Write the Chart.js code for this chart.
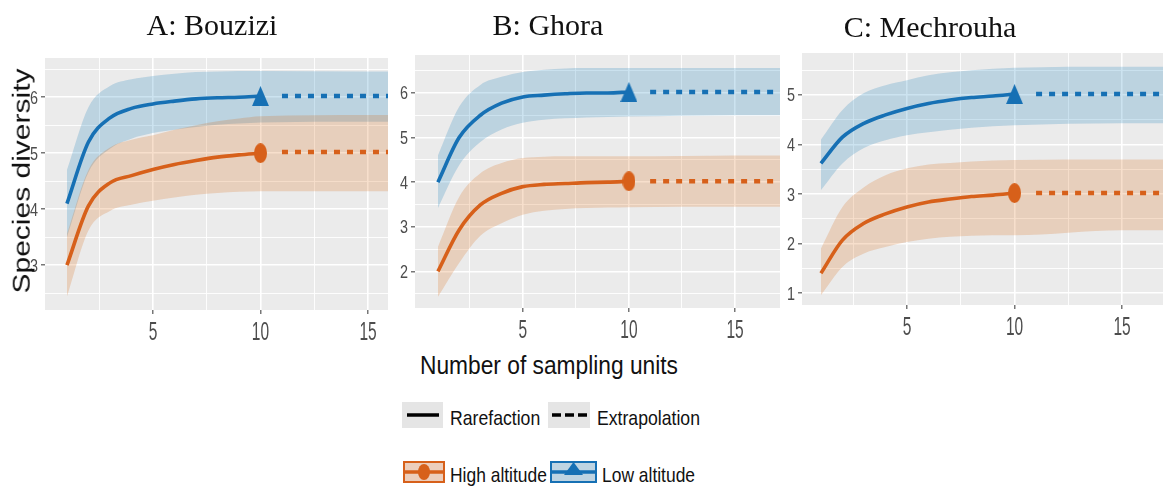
<!DOCTYPE html>
<html>
<head>
<meta charset="utf-8">
<script src="https://cdn.jsdelivr.net/npm/chart.js@4.4.1/dist/chart.umd.min.js"></script>
<style>
  body { margin: 0; background: #fff; width: 1163px; height: 488px; overflow: hidden; position: relative;
         font-family: 'Liberation Sans', Arial, sans-serif; }
  canvas { position: absolute; top: 0; }
  .title { position: absolute; top: 10px; width: 300px; text-align: center; color: #111;
           font-family: 'Liberation Serif', 'Times New Roman', serif; font-size: 30px; line-height: 30px; }
  .lab { position: absolute; white-space: nowrap; color: #111; transform-origin: left center; }
  svg { position: absolute; }
</style>
</head>
<body>
<canvas id="panelA" width="390" height="345" style="left:0"></canvas>
<canvas id="panelB" width="390" height="345" style="left:392px"></canvas>
<canvas id="panelC" width="381" height="345" style="left:782px"></canvas>

<div class="title" style="left:62px">A: Bouzizi</div>
<div class="title" style="left:398px">B: Ghora</div>
<div class="title" style="left:780px;top:12px">C: Mechrouha</div>

<div class="lab" style="left:-98px;top:166px;width:240px;height:30px;line-height:30px;font-size:30px;text-align:center;transform-origin:center;transform:rotate(-90deg) scaleY(0.78)">Species diversity</div>
<div class="lab" style="left:420px;top:353px;font-size:25px;line-height:25px;transform:scaleX(0.91)">Number of sampling units</div>

<!-- legend: line type -->
<svg style="left:402px;top:402px" width="41" height="26"><rect width="41" height="26" fill="#E5E5E5"/><line x1="5" y1="13" x2="37" y2="13" stroke="#000" stroke-width="3.5"/></svg>
<div class="lab" style="left:450px;top:407px;font-size:21px;line-height:21px;transform:scaleX(0.84)">Rarefaction</div>
<svg style="left:548px;top:402px" width="42" height="26"><rect width="42" height="26" fill="#E5E5E5"/><line x1="4" y1="13" x2="39" y2="13" stroke="#000" stroke-width="3.5" stroke-dasharray="9 4"/></svg>
<div class="lab" style="left:597px;top:407px;font-size:21px;line-height:21px;transform:scaleX(0.84)">Extrapolation</div>

<!-- legend: groups -->
<svg style="left:403px;top:461px" width="42" height="22"><rect x="1" y="1" width="40" height="20" fill="rgb(236,206,188)" stroke="#D7601A" stroke-width="2"/><line x1="2" y1="11" x2="40" y2="11" stroke="#D7601A" stroke-width="3.5"/><ellipse cx="21" cy="11" rx="6" ry="8" fill="#D7601A"/></svg>
<div class="lab" style="left:450px;top:464px;font-size:21px;line-height:21px;transform:scaleX(0.83)">High altitude</div>
<svg style="left:550px;top:461px" width="47" height="22"><rect x="1" y="1" width="45" height="20" fill="rgb(190,212,226)" stroke="#1670B4" stroke-width="2"/><line x1="2" y1="11" x2="45" y2="11" stroke="#1670B4" stroke-width="3.5"/><polygon points="23.5,1 33,14 14,14" fill="#1670B4"/></svg>
<div class="lab" style="left:602px;top:464px;font-size:21px;line-height:21px;transform:scaleX(0.83)">Low altitude</div>

<script>
// sampling units (rarefaction part) and the extra points used for the extrapolated bands
const units = [1, 2, 3, 4, 5, 6, 7, 8, 9, 10];
const bandUnits = [1, 2, 3, 4, 5, 6, 7, 8, 9, 10, 15, 20];
const extrapUnits = [11, 20];

// tick positions (majors get labels, halves are minor grid lines)
const xTicks = [2.5, 5, 7.5, 10, 12.5, 15, 17.5];
const bouziziYTicks = [2.5, 3, 3.5, 4, 4.5, 5, 5.5, 6, 6.5];
const ghoraYTicks = [1.5, 2, 2.5, 3, 3.5, 4, 4.5, 5, 5.5, 6, 6.5];
const mechrouhaYTicks = [1, 1.5, 2, 2.5, 3, 3.5, 4, 4.5, 5, 5.5];

// A: Bouzizi
const bouziziLow = [4.1, 5.2, 5.63, 5.8, 5.88, 5.93, 5.97, 5.99, 6.0, 6.02];
const bouziziLowUpper = [4.7, 5.82, 6.2, 6.32, 6.38, 6.42, 6.45, 6.46, 6.47, 6.47, 6.46, 6.45];
const bouziziLowLower = [3.5, 4.66, 5.08, 5.26, 5.36, 5.42, 5.47, 5.51, 5.53, 5.55, 5.56, 5.56];
const bouziziLowExtrap = [6.02, 6.02];
const bouziziHigh = [3.0, 4.06, 4.47, 4.6, 4.71, 4.8, 4.87, 4.93, 4.97, 5.0];
const bouziziHighUpper = [3.56, 4.7, 5.1, 5.24, 5.32, 5.42, 5.5, 5.57, 5.62, 5.66, 5.68, 5.68];
const bouziziHighLower = [2.44, 3.62, 3.97, 4.08, 4.15, 4.21, 4.26, 4.29, 4.31, 4.32, 4.32, 4.32];
const bouziziHighExtrap = [5.02, 5.02];

// B: Ghora
const ghoraLow = [4.0, 5.0, 5.5, 5.77, 5.91, 5.95, 5.98, 6.0, 6.0, 6.02];
const ghoraLowUpper = [4.6, 5.69, 6.18, 6.36, 6.47, 6.52, 6.55, 6.56, 6.56, 6.56, 6.56, 6.56];
const ghoraLowLower = [3.42, 4.38, 4.9, 5.18, 5.33, 5.4, 5.43, 5.45, 5.46, 5.47, 5.5, 5.5];
const ghoraLowExtrap = [6.02, 6.02];
const ghoraHigh = [2.0, 2.93, 3.49, 3.75, 3.9, 3.95, 3.97, 3.99, 4.0, 4.02];
const ghoraHighUpper = [2.55, 3.67, 4.2, 4.43, 4.54, 4.57, 4.58, 4.58, 4.58, 4.58, 4.6, 4.6];
const ghoraHighLower = [1.43, 2.19, 2.8, 3.08, 3.27, 3.36, 3.4, 3.42, 3.43, 3.44, 3.45, 3.45];
const ghoraHighExtrap = [4.02, 4.02];

// C: Mechrouha
const mechrouhaLow = [3.62, 4.15, 4.43, 4.6, 4.73, 4.83, 4.9, 4.95, 4.98, 5.02];
const mechrouhaLowUpper = [4.1, 4.7, 5.04, 5.2, 5.3, 5.4, 5.46, 5.5, 5.53, 5.55, 5.57, 5.57];
const mechrouhaLowLower = [3.08, 3.62, 3.93, 4.09, 4.19, 4.25, 4.3, 4.34, 4.37, 4.39, 4.43, 4.43];
const mechrouhaLowExtrap = [5.02, 5.02];
const mechrouhaHigh = [1.4, 2.07, 2.41, 2.6, 2.74, 2.84, 2.9, 2.95, 2.98, 3.02];
const mechrouhaHighUpper = [1.9, 2.74, 3.14, 3.38, 3.52, 3.6, 3.63, 3.66, 3.68, 3.69, 3.7, 3.7];
const mechrouhaHighLower = [0.96, 1.53, 1.8, 1.93, 2.03, 2.1, 2.14, 2.16, 2.17, 2.17, 2.27, 2.27];
const mechrouhaHighExtrap = [3.02, 3.02];

const BLUE = '#1670B4', ORANGE = '#D7601A';
const BLUE_BAND = 'rgba(0,114,178,0.2)', ORANGE_BAND = 'rgba(213,94,0,0.2)';

function ellipseMarker(color, w, h) {
  const c = document.createElement('canvas');
  c.width = w; c.height = h;
  const g = c.getContext('2d');
  g.fillStyle = color;
  g.beginPath();
  g.ellipse(w / 2, h / 2, w / 2, h / 2, 0, 0, Math.PI * 2);
  g.fill();
  return c;
}
function triangleMarker(color, w, h) {
  const c = document.createElement('canvas');
  c.width = w; c.height = h;
  const g = c.getContext('2d');
  g.fillStyle = color;
  g.beginPath();
  g.moveTo(w / 2, 0); g.lineTo(w, h); g.lineTo(0, h);
  g.closePath();
  g.fill();
  return c;
}
const circleImg = ellipseMarker(ORANGE, 13, 20);
const triangleImg = triangleMarker(BLUE, 17, 20);

const isMajorY = v => Number.isInteger(v);
const isMajorX = v => v % 5 === 0;

// grey ggplot-like panel
const panelBackground = {
  id: 'panelBackground',
  beforeDraw(chart) {
    const { ctx, chartArea: a } = chart;
    ctx.save();
    ctx.fillStyle = '#EBEBEB';
    ctx.fillRect(a.left, a.top, a.right - a.left, a.bottom - a.top);
    ctx.restore();
  }
};

// the original tick labels are tall and narrow, so draw them squeezed
const squeezedTicks = {
  id: 'squeezedTicks',
  afterDraw(chart) {
    const ctx = chart.ctx, xs = chart.scales.x, ys = chart.scales.y;
    ctx.save();
    ctx.fillStyle = '#4D4D4D';
    ctx.textBaseline = 'alphabetic';
    ctx.font = '25px "Liberation Sans"';
    ctx.textAlign = 'center';
    xs.ticks.filter(t => isMajorX(t.value)).forEach(t => {
      ctx.save();
      ctx.translate(xs.getPixelForValue(t.value), xs.top + 30);
      ctx.scale(0.62, 1);
      ctx.fillText(String(t.value), 0, 0);
      ctx.restore();
    });
    ctx.font = '18px "Liberation Sans"';
    ctx.textAlign = 'right';
    ys.ticks.filter(t => isMajorY(t.value)).forEach(t => {
      ctx.save();
      ctx.translate(ys.right - 7, ys.getPixelForValue(t.value) + 6.4);
      ctx.scale(0.8, 1);
      ctx.fillText(String(t.value), 0, 0);
      ctx.restore();
    });
    ctx.restore();
  }
};

const pts = (xs, ys) => xs.map((x, i) => ({ x: x, y: ys[i] }));

function line(data, color, dashed) {
  return {
    data: data, borderColor: color, borderWidth: dashed ? 4.5 : 3.6,
    borderDash: dashed ? [6, 7] : [], pointRadius: 0, fill: false,
    cubicInterpolationMode: 'monotone', order: 1
  };
}
function marker(x, y, img) {
  return { data: [{ x: x, y: y }], showLine: false, pointStyle: img, pointRadius: 8, order: 0 };
}
function band(data, color, fill, order) {
  return {
    data: data, borderWidth: 0, pointRadius: 0, backgroundColor: color,
    fill: fill, cubicInterpolationMode: 'monotone', order: order
  };
}

function drawPanel(id, s, f) {
  new Chart(document.getElementById(id), {
    type: 'line',
    data: {
      datasets: [
        line(pts(units, s.low), BLUE, false),
        line(pts(extrapUnits, s.lowExtrap), BLUE, true),
        marker(units[units.length - 1], s.low[s.low.length - 1], triangleImg),
        line(pts(units, s.high), ORANGE, false),
        line(pts(extrapUnits, s.highExtrap), ORANGE, true),
        marker(units[units.length - 1], s.high[s.high.length - 1], circleImg),
        band(pts(bandUnits, s.lowLower), BLUE_BAND, false, 3),
        band(pts(bandUnits, s.lowUpper), BLUE_BAND, '-1', 3),
        band(pts(bandUnits, s.highLower), ORANGE_BAND, false, 2),
        band(pts(bandUnits, s.highUpper), ORANGE_BAND, '-1', 2)
      ]
    },
    options: {
      responsive: false,
      animation: false,
      devicePixelRatio: 1,
      events: [],
      layout: { autoPadding: false, padding: { top: f.top, right: f.right, left: 0, bottom: 0 } },
      plugins: { legend: { display: false }, tooltip: { enabled: false } },
      scales: {
        x: {
          type: 'linear', min: f.xMin, max: f.xMax,
          afterFit: sc => {
            sc.height = 345 - f.bottom;
            sc.paddingLeft = 0; sc.paddingRight = 0;
          },
          afterBuildTicks: sc => { sc.ticks = xTicks.filter(v => v > f.xMin && v < f.xMax).map(v => ({ value: v })); },
          border: { display: false },
          grid: {
            color: '#FFFFFF',
            lineWidth: c => isMajorX(c.tick.value) ? 1.6 : 0.9,
            tickColor: c => isMajorX(c.tick.value) ? '#555555' : 'rgba(0,0,0,0)',
            tickLength: 4, tickWidth: 1.2
          },
          ticks: { display: false, autoSkip: false }
        },
        y: {
          min: f.yMin, max: f.yMax,
          afterFit: sc => {
            sc.width = f.axisW;
            sc.paddingTop = 0; sc.paddingBottom = 0;
          },
          afterBuildTicks: sc => { sc.ticks = f.yTicks.filter(v => v > f.yMin && v < f.yMax).map(v => ({ value: v })); },
          border: { display: false },
          grid: {
            color: '#FFFFFF',
            lineWidth: c => isMajorY(c.tick.value) ? 1.6 : 0.9,
            tickColor: c => isMajorY(c.tick.value) ? '#555555' : 'rgba(0,0,0,0)',
            tickLength: 4, tickWidth: 1.2
          },
          ticks: { display: false, autoSkip: false }
        }
      }
    },
    plugins: [panelBackground, squeezedTicks]
  });
}

drawPanel('panelA', {
  low: bouziziLow, lowUpper: bouziziLowUpper, lowLower: bouziziLowLower, lowExtrap: bouziziLowExtrap,
  high: bouziziHigh, highUpper: bouziziHighUpper, highLower: bouziziHighLower, highExtrap: bouziziHighExtrap
}, { top: 58, bottom: 310, right: 2, axisW: 45, xMin: -0.02, xMax: 15.93, yMin: 2.2, yMax: 6.7, yTicks: bouziziYTicks });

drawPanel('panelB', {
  low: ghoraLow, lowUpper: ghoraLowUpper, lowLower: ghoraLowLower, lowExtrap: ghoraLowExtrap,
  high: ghoraHigh, highUpper: ghoraHighUpper, highLower: ghoraHighLower, highExtrap: ghoraHighExtrap
}, { top: 55, bottom: 308, right: 2, axisW: 23, xMin: -0.08, xMax: 17.12, yMin: 1.18, yMax: 6.85, yTicks: ghoraYTicks });

drawPanel('panelC', {
  low: mechrouhaLow, lowUpper: mechrouhaLowUpper, lowLower: mechrouhaLowLower, lowExtrap: mechrouhaLowExtrap,
  high: mechrouhaHigh, highUpper: mechrouhaHighUpper, highLower: mechrouhaHighLower, highExtrap: mechrouhaHighExtrap
}, { top: 53, bottom: 305, right: 0, axisW: 20, xMin: 0.12, xMax: 16.9, yMin: 0.76, yMax: 5.85, yTicks: mechrouhaYTicks });
</script>
</body>
</html>
